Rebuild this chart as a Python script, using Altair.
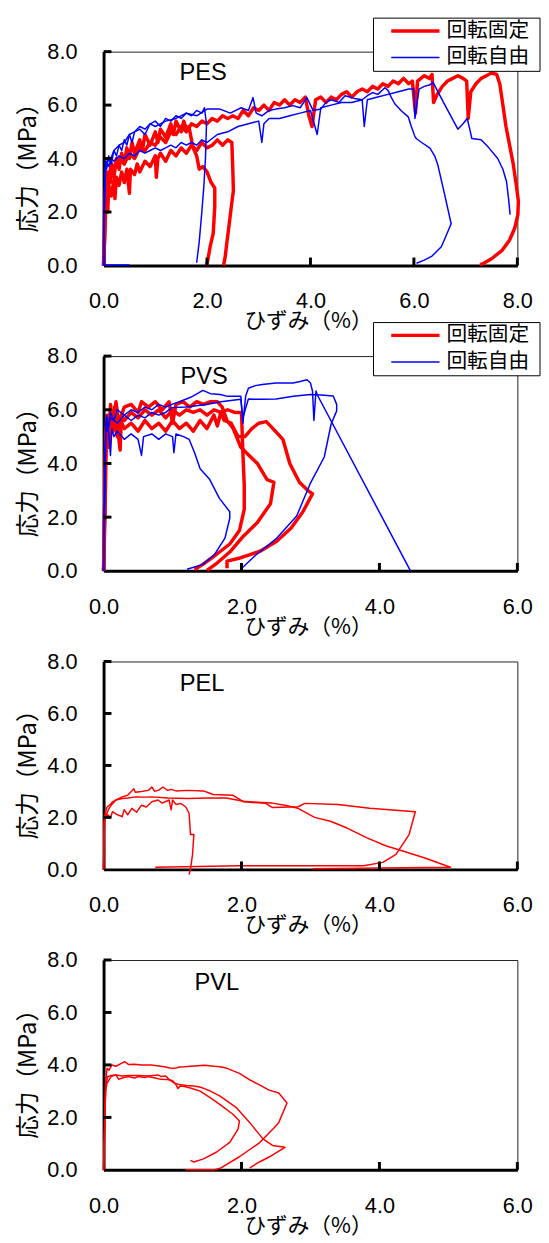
import altair as alt
import pandas as pd

SERIES = ["回転固定", "回転自由"]
COLORS = ["#ff0000", "#0000ff"]
X_LABEL = "ひずみ（%）"
Y_LABEL = "応力（MPa）"
Y_TICKS = [0.0, 2.0, 4.0, 6.0, 8.0]
X_TICKS_8 = [0.0, 2.0, 4.0, 6.0, 8.0]
X_TICKS_6 = [0.0, 2.0, 4.0, 6.0]

NUM_FONT = "Liberation Sans"
JP_FONT = "Noto Sans CJK JP"

# ---------------- PES ----------------
PES_R1 = [(0.0,0.0),(0.02,1.0),(0.03,2.2),(0.05,3.0),(0.08,2.4),(0.10,3.5),(0.13,3.1),(0.16,3.8),(0.20,3.3),(0.25,4.0),(0.30,3.6),(0.35,4.2),(0.40,3.8),(0.45,4.4),(0.50,4.0),(0.55,4.6),(0.60,4.2),(0.70,4.7),(0.75,4.3),(0.80,4.9),(0.90,4.5),(1.00,5.0),(1.05,4.6),(1.10,5.1),(1.20,4.8),(1.30,5.3),(1.35,4.9),(1.40,5.4),(1.50,5.0),(1.55,5.4),(1.60,5.1),(1.65,5.2),(1.70,4.7),(1.73,4.4),(1.80,4.1),(1.85,3.6),(1.92,3.7),(2.00,3.5),(2.08,3.1),(2.15,2.9),(2.15,2.2),(2.12,1.2),(2.06,0.7),(2.02,0.25),(1.99,0.0)]
PES_R2 = [(0.0,0.0),(0.03,1.5),(0.05,2.6),(0.08,2.0),(0.10,3.0),(0.15,2.6),(0.20,3.2),(0.22,2.5),(0.25,3.3),(0.30,3.0),(0.35,3.5),(0.40,3.1),(0.45,3.6),(0.50,2.7),(0.52,3.6),(0.60,3.4),(0.65,3.8),(0.70,3.5),(0.80,3.9),(0.90,3.7),(1.00,4.1),(1.02,3.3),(1.05,4.0),(1.10,4.2),(1.20,3.9),(1.30,4.3),(1.40,4.1),(1.50,4.4),(1.60,4.2),(1.70,4.5),(1.80,4.3),(1.90,4.6),(2.00,4.4),(2.10,4.5),(2.20,4.7),(2.30,4.5),(2.40,4.7),(2.48,4.6),(2.50,3.5),(2.51,2.8),(2.47,2.2),(2.42,1.4),(2.38,0.8),(2.35,0.3),(2.32,0.0)]
PES_R3 = [(0.0,0.0),(0.02,2.0),(0.04,3.0),(0.06,3.5),(0.10,3.2),(0.15,3.8),(0.20,3.6),(0.30,4.0),(0.40,3.8),(0.50,4.2),(0.60,4.0),(0.70,4.4),(0.80,4.3),(0.90,4.6),(1.00,4.5),(1.10,4.8),(1.20,4.6),(1.30,5.0),(1.40,4.9),(1.50,5.2),(1.60,5.0),(1.70,5.3),(1.80,5.2),(1.90,5.4),(2.00,5.3),(2.10,5.5),(2.20,5.4),(2.30,5.6),(2.40,5.5),(2.50,5.6),(2.60,5.5),(2.70,5.8),(2.80,5.6),(2.90,5.9),(3.00,5.8),(3.10,6.0),(3.20,5.8),(3.30,6.1),(3.40,6.0),(3.50,6.2),(3.60,6.0),(3.70,6.2),(3.80,6.1),(3.90,6.3),(3.97,5.6),(4.03,5.2),(4.10,6.2),(4.20,6.3),(4.30,6.1),(4.40,6.3),(4.50,6.2),(4.60,6.4),(4.70,6.5),(4.80,6.3),(4.90,6.5),(5.00,6.6),(5.10,6.5),(5.20,6.7),(5.30,6.6),(5.40,6.8),(5.50,6.7),(5.60,6.9),(5.70,6.8),(5.80,7.0),(5.90,6.8),(5.97,6.9),(6.03,5.7),(6.07,6.9),(6.20,7.1),(6.30,7.0),(6.35,7.15),(6.38,6.1),(6.45,6.4),(6.55,6.7),(6.65,6.9),(6.75,7.0),(6.85,7.1),(6.95,7.0),(7.02,6.9),(7.05,5.5),(7.10,6.5),(7.20,6.8),(7.30,7.0),(7.40,7.1),(7.50,7.2),(7.60,7.15),(7.66,6.8),(7.72,6.0),(7.78,5.2),(7.85,4.5),(7.92,3.8),(7.98,3.0),(8.02,2.4),(8.01,1.9),(7.95,1.4),(7.85,0.95),(7.70,0.55),(7.50,0.25),(7.35,0.08),(7.28,0.03)]
PES_B1 = [(0.0,0.0),(0.01,1.5),(0.02,3.0),(0.04,3.9),(0.06,3.6),(0.10,4.1),(0.15,3.8),(0.20,4.3),(0.25,4.1),(0.30,4.5),(0.35,4.3),(0.40,4.7),(0.45,4.5),(0.50,4.9),(0.55,4.6),(0.60,5.0),(0.70,5.1),(0.80,4.9),(0.90,5.3),(1.00,5.4),(1.10,5.2),(1.20,5.5),(1.30,5.4),(1.40,5.6),(1.50,5.5),(1.60,5.7),(1.70,5.6),(1.80,5.8),(1.90,5.7),(1.95,5.9),(1.99,5.3),(1.97,4.0),(1.94,3.0),(1.90,2.0),(1.85,0.9),(1.80,0.1)]
PES_B2 = [(0.5,0.02),(0.02,0.02),(0.01,2.0),(0.03,3.5),(0.05,3.9),(0.10,3.7),(0.15,4.0),(0.20,3.9),(0.30,4.1),(0.40,4.0),(0.50,4.2),(0.60,4.1),(0.70,4.3),(0.80,4.2),(0.90,4.3),(1.00,4.4),(1.10,4.3),(1.20,4.4),(1.30,4.5),(1.40,4.4),(1.50,4.6),(1.60,4.5),(1.70,4.6),(1.80,4.5),(1.90,4.7),(2.00,4.6),(2.20,4.9),(2.40,5.0),(2.60,5.2),(2.80,5.3),(3.00,5.4),(3.06,4.6),(3.10,5.3),(3.20,5.5),(3.40,5.5),(3.60,5.6),(3.80,5.7),(4.00,5.8),(4.13,4.9),(4.20,5.9),(4.40,6.0),(4.60,6.1),(4.80,6.1),(5.00,6.2),(5.04,5.2),(5.10,6.2),(5.30,6.3),(5.50,6.4),(5.70,6.5),(5.90,6.6),(6.00,6.6),(6.02,5.5),(6.10,6.6),(6.20,6.7),(6.30,6.75),(6.37,6.85),(6.60,6.0),(6.85,5.1),(6.95,5.3),(7.03,5.5),(7.08,5.1),(7.12,4.75),(7.30,4.7),(7.45,4.4),(7.62,4.0),(7.72,3.6),(7.79,3.14),(7.83,2.5),(7.86,1.9)]
PES_B3 = [(0.0,0.0),(0.02,2.5),(0.04,3.6),(0.08,4.0),(0.12,3.9),(0.20,4.3),(0.30,4.5),(0.40,4.6),(0.50,4.9),(0.60,5.0),(0.70,5.2),(0.80,5.1),(0.90,5.3),(1.00,5.2),(1.20,5.4),(1.40,5.5),(1.60,5.7),(1.80,5.6),(2.00,5.85),(2.25,5.85),(2.45,5.7),(2.66,5.9),(2.80,5.8),(2.89,6.28),(2.95,5.7),(3.06,5.6),(3.20,5.8),(3.33,5.85),(3.50,5.9),(3.66,5.98),(3.80,5.9),(3.93,6.28),(4.05,5.8),(4.20,5.85),(4.30,6.1),(4.40,6.2),(4.55,6.1),(4.67,6.35),(4.85,6.25),(5.00,6.2),(5.10,6.35),(5.20,6.47),(5.30,6.4),(5.44,6.65),(5.50,6.55),(5.56,6.3),(5.63,6.05),(5.75,5.8),(5.89,5.56),(5.95,5.2),(6.02,4.82),(6.05,4.74),(6.15,4.6),(6.31,4.39),(6.40,4.1),(6.46,3.78),(6.60,2.6),(6.72,1.56),(6.62,1.1),(6.53,0.7),(6.35,0.35),(6.20,0.2),(6.05,0.08)]

# ---------------- PVS ----------------
PVS_R1 = [(0.0,0.0),(0.02,3.0),(0.03,5.0),(0.05,5.8),(0.08,4.6),(0.10,5.9),(0.13,5.2),(0.16,6.1),(0.20,5.4),(0.24,4.5),(0.26,5.8),(0.30,5.6),(0.40,5.9),(0.50,5.7),(0.60,6.0),(0.70,5.8),(0.80,6.0),(0.90,5.7),(1.00,6.0),(1.10,5.8),(1.20,6.0),(1.30,5.9),(1.40,6.0),(1.50,5.8),(1.60,6.0),(1.70,5.9),(1.80,6.0),(1.90,5.9),(2.00,5.9),(2.02,4.4),(2.04,3.2),(2.04,2.3),(1.97,1.5),(1.83,1.0),(1.63,0.6),(1.44,0.24),(1.32,0.05)]
PVS_R2 = [(0.0,0.0),(0.03,4.5),(0.05,5.5),(0.08,5.0),(0.10,6.2),(0.14,5.4),(0.18,6.3),(0.22,5.5),(0.30,6.1),(0.40,6.2),(0.50,5.9),(0.55,6.3),(0.65,6.1),(0.75,6.3),(0.85,6.0),(0.95,6.3),(1.00,5.5),(1.05,6.2),(1.15,6.3),(1.25,6.1),(1.35,6.3),(1.45,6.2),(1.55,6.3),(1.65,6.3),(1.72,6.1),(1.79,5.6),(1.88,5.3),(1.99,4.6),(2.11,4.3),(2.23,4.0),(2.37,3.4),(2.47,3.3),(2.42,2.5),(2.23,1.8),(2.03,1.3),(1.83,0.7),(1.65,0.3),(1.50,0.02)]
PVS_R3 = [(0.0,0.0),(0.02,2.0),(0.04,5.0),(0.06,5.6),(0.10,5.2),(0.15,5.5),(0.20,5.0),(0.25,5.6),(0.30,5.3),(0.40,5.5),(0.50,5.2),(0.60,5.6),(0.70,5.3),(0.80,5.5),(0.90,5.2),(1.00,5.6),(1.10,5.3),(1.20,5.5),(1.30,5.2),(1.40,5.6),(1.50,5.3),(1.60,5.8),(1.65,5.4),(1.70,5.9),(1.75,5.6),(1.85,5.5),(1.95,5.0),(2.05,5.0),(2.15,5.3),(2.25,5.5),(2.36,5.56),(2.47,5.26),(2.60,4.9),(2.70,4.0),(2.84,3.3),(2.96,3.0),(3.03,2.87),(2.89,2.2),(2.72,1.6),(2.51,1.1),(2.27,0.73),(1.98,0.48),(1.79,0.36),(1.79,0.1)]
PVS_B1 = [(0.0,0.0),(0.02,3.0),(0.03,5.0),(0.05,5.7),(0.08,5.0),(0.10,4.3),(0.12,5.3),(0.15,5.0),(0.20,5.2),(0.30,4.9),(0.40,5.1),(0.50,4.9),(0.55,4.3),(0.58,5.0),(0.70,5.1),(0.80,4.9),(0.90,5.1),(1.00,5.0),(1.02,4.4),(1.05,5.1),(1.16,5.0),(1.24,4.9),(1.32,4.4),(1.40,3.8),(1.54,3.4),(1.68,2.7),(1.83,2.2),(1.83,1.96),(1.76,1.22),(1.61,0.61),(1.44,0.24),(1.21,0.06)]
PVS_B2 = [(0.0,0.0),(0.02,4.0),(0.04,5.6),(0.06,5.2),(0.10,5.9),(0.15,5.6),(0.20,6.0),(0.30,5.8),(0.40,6.0),(0.50,5.9),(0.60,6.1),(0.70,6.0),(0.80,6.2),(0.90,6.1),(0.99,6.2),(1.10,6.3),(1.20,6.4),(1.29,6.5),(1.44,6.72),(1.55,6.6),(1.69,6.57),(1.80,6.5),(1.99,6.5),(2.02,5.5),(2.06,6.5),(2.10,6.8),(2.20,6.9),(2.30,6.94),(2.50,7.0),(2.75,7.0),(2.85,7.05),(2.95,7.12),(3.00,7.0),(3.03,6.69),(3.05,5.6),(3.08,6.7),(3.10,6.55),(4.45,0.0)]
PVS_B3 = [(0.0,0.0),(0.02,4.5),(0.04,5.8),(0.07,5.3),(0.10,5.7),(0.20,5.5),(0.30,5.8),(0.40,5.6),(0.50,5.8),(0.60,5.7),(0.70,5.9),(0.80,5.8),(0.90,5.9),(0.99,6.08),(1.20,6.1),(1.49,6.2),(1.70,6.3),(1.99,6.39),(2.02,5.7),(2.10,6.4),(2.30,6.39),(2.50,6.4),(2.75,6.5),(3.00,6.57),(3.15,6.55),(3.33,6.51),(3.38,6.2),(3.38,5.96),(3.30,5.47),(3.20,4.24),(3.00,3.27),(2.80,2.04),(2.50,1.19),(2.20,0.57),(2.00,0.09)]

# ---------------- PEL ----------------
PEL_R1 = [(0.0,0.0),(0.01,1.5),(0.02,1.97),(0.06,2.1),(0.10,2.0),(0.13,2.22),(0.20,2.1),(0.27,2.03),(0.30,2.3),(0.35,2.1),(0.41,2.35),(0.48,2.2),(0.55,2.47),(0.62,2.4),(0.70,2.6),(0.79,2.67),(0.85,2.55),(0.95,2.67),(0.98,2.29),(1.00,2.67),(1.05,2.5),(1.12,2.54),(1.19,2.41),(1.24,2.16),(1.26,1.34),(1.31,1.34),(1.29,0.58),(1.26,0.0),(1.24,-0.2)]
PEL_R2 = [(0.0,0.0),(0.01,2.0),(0.05,2.4),(0.10,2.5),(0.13,2.6),(0.20,2.7),(0.27,2.79),(0.35,2.85),(0.44,3.1),(0.46,2.97),(0.55,3.0),(0.65,3.04),(0.70,3.17),(0.74,3.0),(0.80,3.05),(0.86,3.17),(0.93,3.04),(0.98,3.08),(1.05,3.02),(1.21,3.04),(1.45,3.02),(1.55,2.92),(1.59,2.88),(1.88,2.85),(2.03,2.6),(2.35,2.54),(2.45,2.38),(2.82,2.41),(2.92,2.54),(3.40,2.5),(3.86,2.35),(4.52,2.22),(4.43,1.34),(4.24,0.58),(4.05,0.27),(3.77,0.14),(1.97,0.14),(0.75,0.08)]
PEL_R3 = [(0.0,0.0),(0.01,1.8),(0.04,2.1),(0.08,2.35),(0.12,2.5),(0.18,2.67),(0.27,2.73),(0.35,2.75),(0.46,2.79),(0.60,2.78),(0.70,2.79),(0.93,2.75),(1.22,2.73),(1.50,2.75),(1.78,2.75),(2.03,2.62),(2.30,2.57),(2.45,2.55),(2.63,2.47),(2.82,2.35),(3.06,2.0),(3.29,1.85),(3.53,1.59),(3.82,1.21),(4.10,0.9),(4.34,0.71),(4.67,0.43),(5.03,0.08),(3.04,0.02)]

# ---------------- PVL ----------------
PVL_R1 = [(0.0,0.0),(0.02,2.0),(0.03,3.3),(0.05,3.87),(0.08,3.8),(0.12,4.0),(0.18,3.95),(0.25,4.05),(0.31,4.12),(0.36,4.02),(0.45,4.03),(0.55,4.0),(0.69,4.0),(0.80,3.96),(0.88,3.93),(0.96,3.88),(1.03,3.87),(1.10,3.92),(1.17,3.93),(1.31,3.96),(1.46,3.99),(1.60,3.95),(1.69,3.93),(1.79,3.87),(1.97,3.68),(2.12,3.43),(2.26,3.24),(2.40,3.04),(2.54,2.93),(2.66,2.55),(2.54,1.8),(2.47,1.6),(2.26,1.03),(1.97,0.5),(1.69,0.06),(1.60,0.0),(1.19,0.0)]
PVL_R2 = [(0.0,0.0),(0.03,3.0),(0.05,3.3),(0.11,3.56),(0.18,3.62),(0.22,3.45),(0.27,3.5),(0.36,3.56),(0.45,3.5),(0.50,3.56),(0.60,3.52),(0.64,3.56),(0.75,3.5),(0.83,3.45),(0.92,3.44),(1.00,3.41),(1.05,3.25),(1.08,3.1),(1.11,3.2),(1.17,3.18),(1.26,3.12),(1.40,3.0),(1.55,2.74),(1.69,2.49),(1.88,2.11),(1.97,1.86),(1.95,1.55),(1.83,1.05),(1.64,0.68),(1.45,0.42),(1.31,0.3),(1.26,0.36)]
PVL_R3 = [(0.0,0.0),(0.03,3.2),(0.06,3.55),(0.11,3.6),(0.18,3.62),(0.27,3.58),(0.36,3.6),(0.50,3.6),(0.64,3.58),(0.79,3.62),(0.83,3.56),(0.90,3.58),(0.95,3.45),(1.03,3.3),(1.10,3.25),(1.20,3.22),(1.31,3.2),(1.41,3.15),(1.55,3.0),(1.69,2.81),(1.93,2.36),(2.12,1.8),(2.31,1.18),(2.45,0.93),(2.63,0.86),(2.40,0.49),(2.26,0.3),(2.12,0.08)]

PANELS = [
    dict(name="PES", xmax=8.0, xticks=X_TICKS_8, h=217, legend=True, red_w=3.5, blue_w=1.5,
         label_xy=(101, 22),
         curves=[("r1", 0, PES_R1), ("r2", 0, PES_R2), ("r3", 0, PES_R3),
                 ("b1", 1, PES_B1), ("b2", 1, PES_B2), ("b3", 1, PES_B3)]),
    dict(name="PVS", xmax=6.0, xticks=X_TICKS_6, h=218, legend=True, red_w=3.5, blue_w=1.5,
         label_xy=(102, 21),
         curves=[("r1", 0, PVS_R1), ("r2", 0, PVS_R2), ("r3", 0, PVS_R3),
                 ("b1", 1, PVS_B1), ("b2", 1, PVS_B2), ("b3", 1, PVS_B3)]),
    dict(name="PEL", xmax=6.0, xticks=X_TICKS_6, h=211, legend=False, red_w=1.5, blue_w=1.5,
         label_xy=(100, 23),
         curves=[("r1", 0, PEL_R1), ("r2", 0, PEL_R2), ("r3", 0, PEL_R3)]),
    dict(name="PVL", xmax=6.0, xticks=X_TICKS_6, h=213, legend=False, red_w=1.5, blue_w=1.5,
         label_xy=(115, 23),
         curves=[("r1", 0, PVL_R1), ("r2", 0, PVL_R2), ("r3", 0, PVL_R3)]),
]

W = 420


def to_df(curves):
    rows = []
    for cid, s, pts in curves:
        for i, (x, y) in enumerate(pts):
            rows.append({"curve": cid, "series": SERIES[s], "i": i, "x": x, "y": y})
    return pd.DataFrame(rows)


def text_layer(txt, x, y, font, size, align="center", angle=0):
    kw = dict(font=font, fontSize=size, align=align, baseline="middle", color="black")
    if angle:
        kw["angle"] = angle
    return alt.Chart(pd.DataFrame({"t": [txt]})).mark_text(**kw).encode(
        text="t:N", x=alt.value(x), y=alt.value(y))


def make_panel(p):
    h = p["h"]
    xs = alt.Scale(domain=[0, p["xmax"]], nice=False, zero=False)
    ys = alt.Scale(domain=[0, 8], nice=False, zero=False)
    common = dict(format=".1f", title=None, grid=False, ticks=False, tickSize=0,
                  labelFlush=False, labelOverlap=False, labelFont=NUM_FONT,
                  labelFontSize=22, labelColor="black", domainColor="black",
                  domainWidth=3)
    xaxis = alt.Axis(values=p["xticks"], labelPadding=26, **common)
    yaxis = alt.Axis(values=Y_TICKS, labelPadding=27, **common)
    df = to_df(p["curves"])
    layers = []
    for s, width in ((0, p["red_w"]), (1, p["blue_w"])):
        sub = df[df["series"] == SERIES[s]]
        if len(sub) == 0:
            continue
        layers.append(
            alt.Chart(sub).mark_line(color=COLORS[s], strokeWidth=width,
                                     strokeJoin="round", clip=False).encode(
                x=alt.X("x:Q", scale=xs, axis=xaxis),
                y=alt.Y("y:Q", scale=ys, axis=yaxis),
                detail="curve:N",
                order="i:Q",
            )
        )
    # inward tick marks
    layers.append(
        alt.Chart(pd.DataFrame({"y": Y_TICKS[1:]})).mark_rule(color="black", strokeWidth=3).encode(
            y=alt.Y("y:Q", scale=ys, axis=yaxis), x=alt.value(0), x2=alt.value(8))
    )
    layers.append(
        alt.Chart(pd.DataFrame({"x": p["xticks"][1:]})).mark_rule(color="black", strokeWidth=3).encode(
            x=alt.X("x:Q", scale=xs, axis=xaxis), y=alt.value(h), y2=alt.value(h - 8))
    )
    # axis titles
    layers.append(text_layer(X_LABEL, W / 2 - 2, h + 57, JP_FONT, 22))
    layers.append(text_layer(Y_LABEL, -76, h / 2 + 3.5, JP_FONT, 24, angle=270))
    # panel label
    lx, ly = p["label_xy"]
    layers.append(text_layer(p["name"], lx, ly, NUM_FONT, 24))
    if p["legend"]:
        one = pd.DataFrame({"a": [0]})
        layers.append(
            alt.Chart(one).mark_rect(fill="white", stroke="black", strokeWidth=1).encode(
                x=alt.value(274), x2=alt.value(443), y=alt.value(-34), y2=alt.value(20))
        )
        for s, yy, width in ((0, -21, 3.5), (1, 6, 1.5)):
            layers.append(
                alt.Chart(one).mark_rule(color=COLORS[s], strokeWidth=width).encode(
                    x=alt.value(292), x2=alt.value(341), y=alt.value(yy))
            )
            layers.append(text_layer(SERIES[s], 348, yy, JP_FONT, 21, align="left"))
    return alt.layer(*layers).properties(width=W, height=h)


panels = [make_panel(p) for p in PANELS]

chart = alt.vconcat(*panels, spacing=92, bounds="flush").properties(
    padding={"left": 8, "top": 0, "right": 0, "bottom": 0},
    background="white",
).configure_view(stroke="#222222", strokeWidth=1)

chart.save("out.html", embed_options={"renderer": "svg", "actions": False})
